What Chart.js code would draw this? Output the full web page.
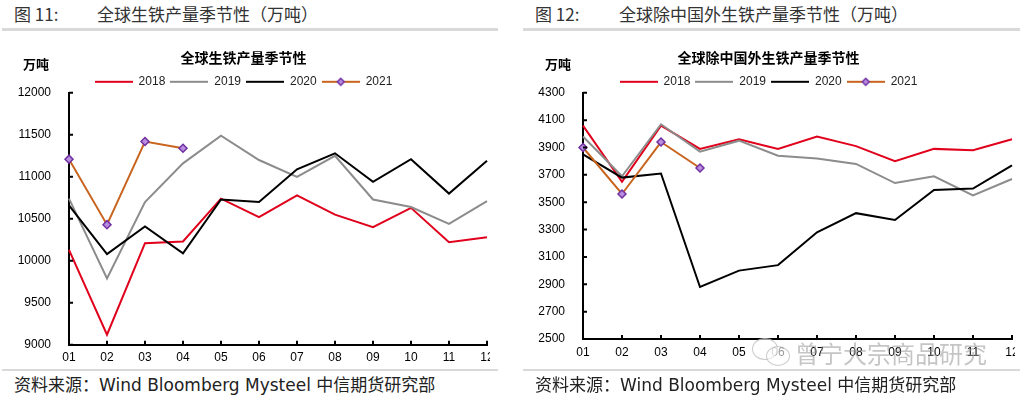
<!DOCTYPE html>
<html>
<head>
<meta charset="utf-8">
<script src="https://cdn.jsdelivr.net/npm/chart.js@4.4.1/dist/chart.umd.min.js"></script>
<style>
  body { margin: 0; width: 1024px; height: 399px; background: #fff; position: relative; overflow: hidden;
         font-family: "Noto Sans CJK SC", sans-serif; color: #222; }
  .txt { position: absolute; white-space: pre; }
  .hdr { top: 1px; font-size: 17px; color: #333; }
  .src { top: 371px; font-size: 17px; color: #222; font-family: "DejaVu Sans", "Noto Sans CJK SC", sans-serif; }
  .unit { top: 54px; font-size: 13px; font-weight: bold; color: #000; }
  .rule { position: absolute; height: 3px; background: #d9d9d9; }
  .box { position: absolute; top: 35px; height: 335px; width: 490px; overflow: hidden; }
  .wm { top: 335px; left: 795px; font-size: 24px; color: rgba(150,150,150,0.55); }
  .bub { position: absolute; border: 1.5px solid rgba(150,150,150,0.5); border-radius: 50%; background: rgba(255,255,255,0.6); }
</style>
</head>
<body>
<div class="txt hdr" style="left:14px">图 11:</div>
<div class="txt hdr" style="left:97px">全球生铁产量季节性（万吨）</div>
<div class="rule" style="left:2px;width:496px;top:28px"></div>
<div class="txt hdr" style="left:535px">图 12:</div>
<div class="txt hdr" style="left:619px">全球除中国外生铁产量季节性（万吨）</div>
<div class="rule" style="left:523px;width:497px;top:28px"></div>

<div class="box" style="left:0px"><canvas id="worldChart" width="500" height="335"></canvas></div>
<div class="box" style="left:525px"><canvas id="exChinaChart" width="500" height="335"></canvas></div>

<div class="txt unit" style="left:23px">万吨</div>
<div class="txt unit" style="left:545px">万吨</div>

<div class="bub" style="left:752px;top:338px;width:24px;height:20px"></div>
<div class="bub" style="left:766px;top:346px;width:22px;height:18px"></div>
<div class="txt wm">曾宁大宗商品研究</div>

<div class="rule" style="left:2px;width:496px;top:369px;height:2px"></div>
<div class="rule" style="left:523px;width:497px;top:369px;height:2px"></div>
<div class="txt src" style="left:14px">资料来源：Wind Bloomberg Mysteel 中信期货研究部</div>
<div class="txt src" style="left:535px">资料来源：Wind Bloomberg Mysteel 中信期货研究部</div>

<script>
// --- data ---
const months = ['01', '02', '03', '04', '05', '06', '07', '08', '09', '10', '11', '12'];
const years = ['2018', '2019', '2020', '2021'];

// global pig iron output, 万吨
const world2018 = [10130, 9120, 10210, 10230, 10740, 10520, 10780, 10550, 10400, 10630, 10220, 10280];
const world2019 = [10740, 9790, 10700, 11160, 11490, 11200, 11000, 11250, 10730, 10640, 10440, 10710];
const world2020 = [10660, 10080, 10410, 10090, 10730, 10700, 11090, 11280, 10940, 11210, 10800, 11190];
const world2021 = [11210, 10430, 11420, 11340];
const worldTicks = [9000, 9500, 10000, 10500, 11000, 11500, 12000];

// global ex-China pig iron output, 万吨
const exChina2018 = [4060, 3650, 4060, 3890, 3960, 3890, 3980, 3910, 3800, 3890, 3880, 3960];
const exChina2019 = [3980, 3690, 4070, 3870, 3950, 3840, 3820, 3780, 3640, 3690, 3550, 3670];
const exChina2020 = [3850, 3680, 3710, 2880, 3000, 3040, 3280, 3420, 3370, 3590, 3600, 3770];
const exChina2021 = [3900, 3560, 3940, 3750];
const exChinaTicks = [2500, 2700, 2900, 3100, 3300, 3500, 3700, 3900, 4100, 4300];

// --- styling ---
const lineColors = ['#e0001b', '#8c8c8c', '#000000', '#c8641e'];
const markerBorder = '#7030a0';
const markerFill = '#b98de0';
const tickFont = { family: '"Liberation Sans", Arial, sans-serif', size: 12 };

// legend icon: a short line, with a diamond for the 2021 series
const legendIcon = (color, marker) => {
    const c = document.createElement('canvas');
    c.width = 38; c.height = 10;
    const g = c.getContext('2d');
    g.strokeStyle = color; g.lineWidth = 2;
    g.beginPath(); g.moveTo(0, 5); g.lineTo(38, 5); g.stroke();
    if (marker) {
        g.beginPath();
        g.moveTo(19, 1.5); g.lineTo(22.5, 5); g.lineTo(19, 8.5); g.lineTo(15.5, 5); g.closePath();
        g.fillStyle = markerFill; g.fill();
        g.strokeStyle = markerBorder; g.lineWidth = 1.5; g.stroke();
    }
    return c;
};
const icons = lineColors.map((c, i) => legendIcon(c, i === 3));

// small ticks drawn inside the axes, legend nudged down a bit
const innerTicks = {
    id: 'innerTicks',
    afterLayout(chart) {
        chart.legend.top += 5;
        chart.legend.bottom += 5;
    },
    afterDatasetsDraw(chart) {
        const { ctx, scales: { x, y } } = chart;
        ctx.save();
        ctx.strokeStyle = '#000';
        ctx.lineWidth = 2;
        ctx.beginPath();
        x.ticks.forEach((t, i) => {
            const px = x.getPixelForTick(i);
            ctx.moveTo(px, x.top); ctx.lineTo(px, x.top - 4);
        });
        y.ticks.forEach((t, i) => {
            const py = y.getPixelForTick(i);
            ctx.moveTo(y.right, py); ctx.lineTo(y.right + 4, py);
        });
        ctx.stroke();
        ctx.restore();
    }
};

const createChart = (canvasId, title, series, yTicks, yWidth, xHeight) => {
    const datasets = series.map((data, i) => ({
        label: years[i],
        data: data,
        borderColor: lineColors[i],
        backgroundColor: lineColors[i],
        borderWidth: 2,
        tension: 0,
        pointRadius: i === 3 ? 4 : 0,
        pointStyle: 'rectRot',
        pointBorderColor: markerBorder,
        pointBackgroundColor: markerFill,
        pointBorderWidth: 1.5,
        clip: false,
        order: 3 - i   // 2021 on top
    }));

    new Chart(document.getElementById(canvasId).getContext('2d'), {
        type: 'line',
        data: { labels: months, datasets: datasets },
        options: {
            responsive: false,
            animation: false,
            layout: { padding: { top: 14, left: 0, right: 13, bottom: 0 } },
            plugins: {
                title: {
                    display: true,
                    text: title,
                    color: '#000',
                    font: { family: '"Noto Sans CJK SC", sans-serif', size: 14, weight: 'bold' },
                    padding: { top: 0, bottom: 0 }
                },
                legend: {
                    display: true,
                    labels: {
                        usePointStyle: true,
                        pointStyleWidth: 38,
                        padding: 5,
                        color: '#222',
                        font: tickFont,
                        sort: (a, b) => a.datasetIndex - b.datasetIndex,
                        generateLabels(chart) {
                            const items = Chart.defaults.plugins.legend.labels.generateLabels(chart);
                            items.forEach(it => { it.pointStyle = icons[it.datasetIndex]; });
                            return items;
                        }
                    }
                },
                tooltip: { enabled: false }
            },
            scales: {
                x: {
                    offset: false,
                    grid: { display: true, drawOnChartArea: false, drawTicks: false },
                    border: { display: true, color: '#000', width: 2 },
                    ticks: { color: '#000', font: tickFont, padding: 6, maxRotation: 0, autoSkip: false },
                    afterFit(s) { s.height = xHeight; }
                },
                y: {
                    min: yTicks[0],
                    max: yTicks[yTicks.length - 1],
                    afterBuildTicks(s) { s.ticks = yTicks.map(v => ({ value: v })); },
                    grid: { display: true, drawOnChartArea: false, drawTicks: false },
                    border: { display: true, color: '#000', width: 2 },
                    ticks: { color: '#000', font: tickFont, padding: 18, callback: v => String(v) },
                    afterFit(s) { s.width = yWidth; }
                }
            }
        },
        plugins: [innerTicks]
    });
};

createChart('worldChart', '全球生铁产量季节性',
    [world2018, world2019, world2020, world2021], worldTicks, 69, 25);
createChart('exChinaChart', '全球除中国外生铁产量季节性',
    [exChina2018, exChina2019, exChina2020, exChina2021], exChinaTicks, 58, 31);
</script>
</body>
</html>
